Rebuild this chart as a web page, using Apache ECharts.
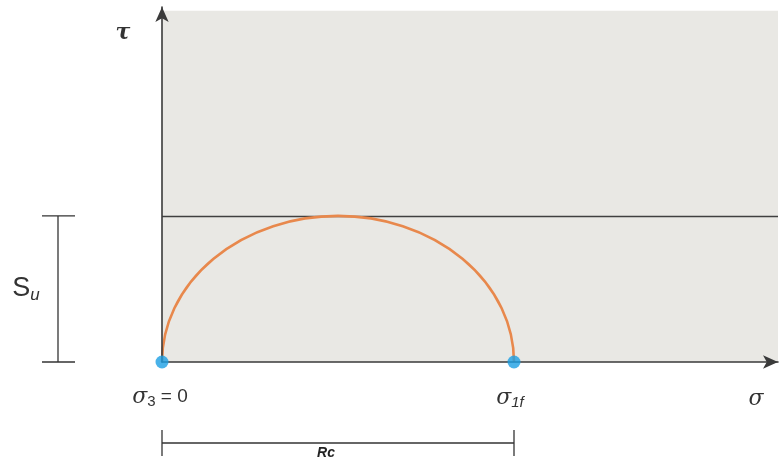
<!DOCTYPE html>
<html>
<head>
<meta charset="utf-8">
<script src="https://cdn.jsdelivr.net/npm/echarts@6/dist/echarts.min.js"></script>
<style>
html, body { margin: 0; padding: 0; background: #fff; }
#main { width: 779px; height: 461px; }
</style>
</head>
<body>
<div id="main"></div>
<script>
// 莫尔圆上的两个主应力点 (σ3, σ1f)，τ = 0
const sigmaPoints = [0, 100];
// 不排水抗剪强度 Su（圆的半径）
const suValue = 50;
// 坐标轴范围
const sigmaRange = [0, 175];
const tauRange = [0, 121.5];
// 灰色背景区域上沿
const shadeTop = 120.2;

const axisColor = '#3a3a3a';
const serif = '"DejaVu Serif", "Liberation Serif", serif';
const sans = '"Liberation Sans", Arial, sans-serif';

const chart = echarts.init(document.getElementById('main'));

const axisCommon = {
    type: 'value',
    z: 10,
    axisLine: {
        show: true,
        symbol: ['none', 'arrow'],
        symbolSize: [10, 15],
        lineStyle: { color: axisColor, width: 1.6 }
    },
    axisTick: { show: false },
    axisLabel: { show: false },
    splitLine: { show: false }
};

const option = {
    animation: false,
    grid: { left: 162, right: 1, top: 7, bottom: 99 },
    xAxis: Object.assign({}, axisCommon, { min: sigmaRange[0], max: sigmaRange[1] }),
    yAxis: Object.assign({}, axisCommon, { min: tauRange[0], max: tauRange[1] }),
    series: [
        {
            // 半圆（像素上为椭圆弧）
            type: 'custom',
            z: 5,
            silent: true,
            data: [[sigmaPoints[0], sigmaPoints[1], suValue]],
            renderItem(params, api) {
                const p0 = api.coord([api.value(0), 0]);
                const p1 = api.coord([api.value(1), 0]);
                const top = api.coord([api.value(0), api.value(2)]);
                const rx = (p1[0] - p0[0]) / 2;
                const ry = p0[1] - top[1];
                return {
                    type: 'path',
                    shape: {
                        pathData: 'M' + p0[0] + ' ' + p0[1] + ' A' + rx + ' ' + ry + ' 0 0 1 ' + p1[0] + ' ' + p1[1]
                    },
                    style: { fill: 'none', stroke: '#e8884c', lineWidth: 2.6 }
                };
            },
            markArea: {
                silent: true,
                itemStyle: { color: '#e9e8e4' },
                data: [[{ xAxis: sigmaRange[0], yAxis: tauRange[0] }, { xAxis: sigmaRange[1], yAxis: shadeTop }]]
            },
            markLine: {
                silent: true,
                symbol: 'none',
                label: { show: false },
                lineStyle: { color: '#404040', type: 'solid', width: 1.3 },
                data: [{ yAxis: suValue }]
            }
        },
        {
            type: 'scatter',
            z: 20,
            symbolSize: 13,
            itemStyle: { color: '#1b9fe3' },
            data: sigmaPoints.map(v => [v, 0])
        }
    ]
};
chart.setOption(option);

// 文字和标注线
const toPx = (x, y) => chart.convertToPixel({ gridIndex: 0 }, [x, y]);
const o = toPx(sigmaPoints[0], 0);
const f = toPx(sigmaPoints[1], 0);
const su = toPx(sigmaPoints[0], suValue);
const xEnd = toPx(sigmaRange[1], 0);
const yTop = toPx(0, tauRange[1]);

const line = (x1, y1, x2, y2) => ({
    type: 'line',
    shape: { x1, y1, x2, y2 },
    style: { stroke: '#333', lineWidth: 1.3 }
});
const text = (x, y, str, rich, fontSize) => ({
    type: 'text',
    x, y,
    style: {
        text: str,
        rich: rich,
        fill: '#333',
        font: fontSize + 'px ' + sans,
        align: 'center',
        verticalAlign: 'middle'
    }
});

const bx = o[0] - 104;
const ry = o[1] + 81;
chart.setOption({
    graphic: [
        // Su 标注
        line(bx, su[1], bx, o[1]),
        line(bx - 16, su[1], bx + 17, su[1]),
        line(bx - 16, o[1], bx + 17, o[1]),
        text(o[0] - 136, (su[1] + o[1]) / 2, '{s|S}{u|u}', {
            s: { fontSize: 27, fontFamily: sans, fill: '#333' },
            u: { fontSize: 17, fontFamily: sans, fontStyle: 'italic', fill: '#333', padding: [12, 0, 0, 0] }
        }, 27),
        // Rc 标注
        line(o[0], ry, f[0], ry),
        line(o[0], ry - 13, o[0], ry + 13),
        line(f[0], ry - 13, f[0], ry + 13),
        text((o[0] + f[0]) / 2 - 12, ry + 10, '{r|Rc}', {
            r: { fontSize: 14, fontFamily: sans, fontStyle: 'italic', fontWeight: 'bold', fill: '#222' }
        }, 14),
        // 轴名
        text(o[0] - 39, yTop[1] + 26, '{g|τ}', {
            g: { fontSize: 22, fontFamily: serif, fontStyle: 'italic', fontWeight: 'bold', fill: '#333' }
        }, 22),
        text(xEnd[0] - 22, o[1] + 37, '{g|σ}', {
            g: { fontSize: 22, fontFamily: serif, fontStyle: 'italic', fill: '#333' }
        }, 22),
        // 点标签
        text(o[0] - 2, o[1] + 35, '{g|σ}{sub|3}{n| = 0}', {
            g: { fontSize: 22, fontFamily: serif, fontStyle: 'italic', fill: '#333' },
            sub: { fontSize: 15, fontFamily: sans, fill: '#333', padding: [10, 0, 0, 0] },
            n: { fontSize: 19, fontFamily: sans, fill: '#333' }
        }, 19),
        text(f[0] - 4, o[1] + 36, '{g|σ}{sub|1f}', {
            g: { fontSize: 22, fontFamily: serif, fontStyle: 'italic', fill: '#333' },
            sub: { fontSize: 15, fontFamily: sans, fontStyle: 'italic', fill: '#333', padding: [10, 0, 0, 0] }
        }, 19)
    ]
});
</script>
</body>
</html>
